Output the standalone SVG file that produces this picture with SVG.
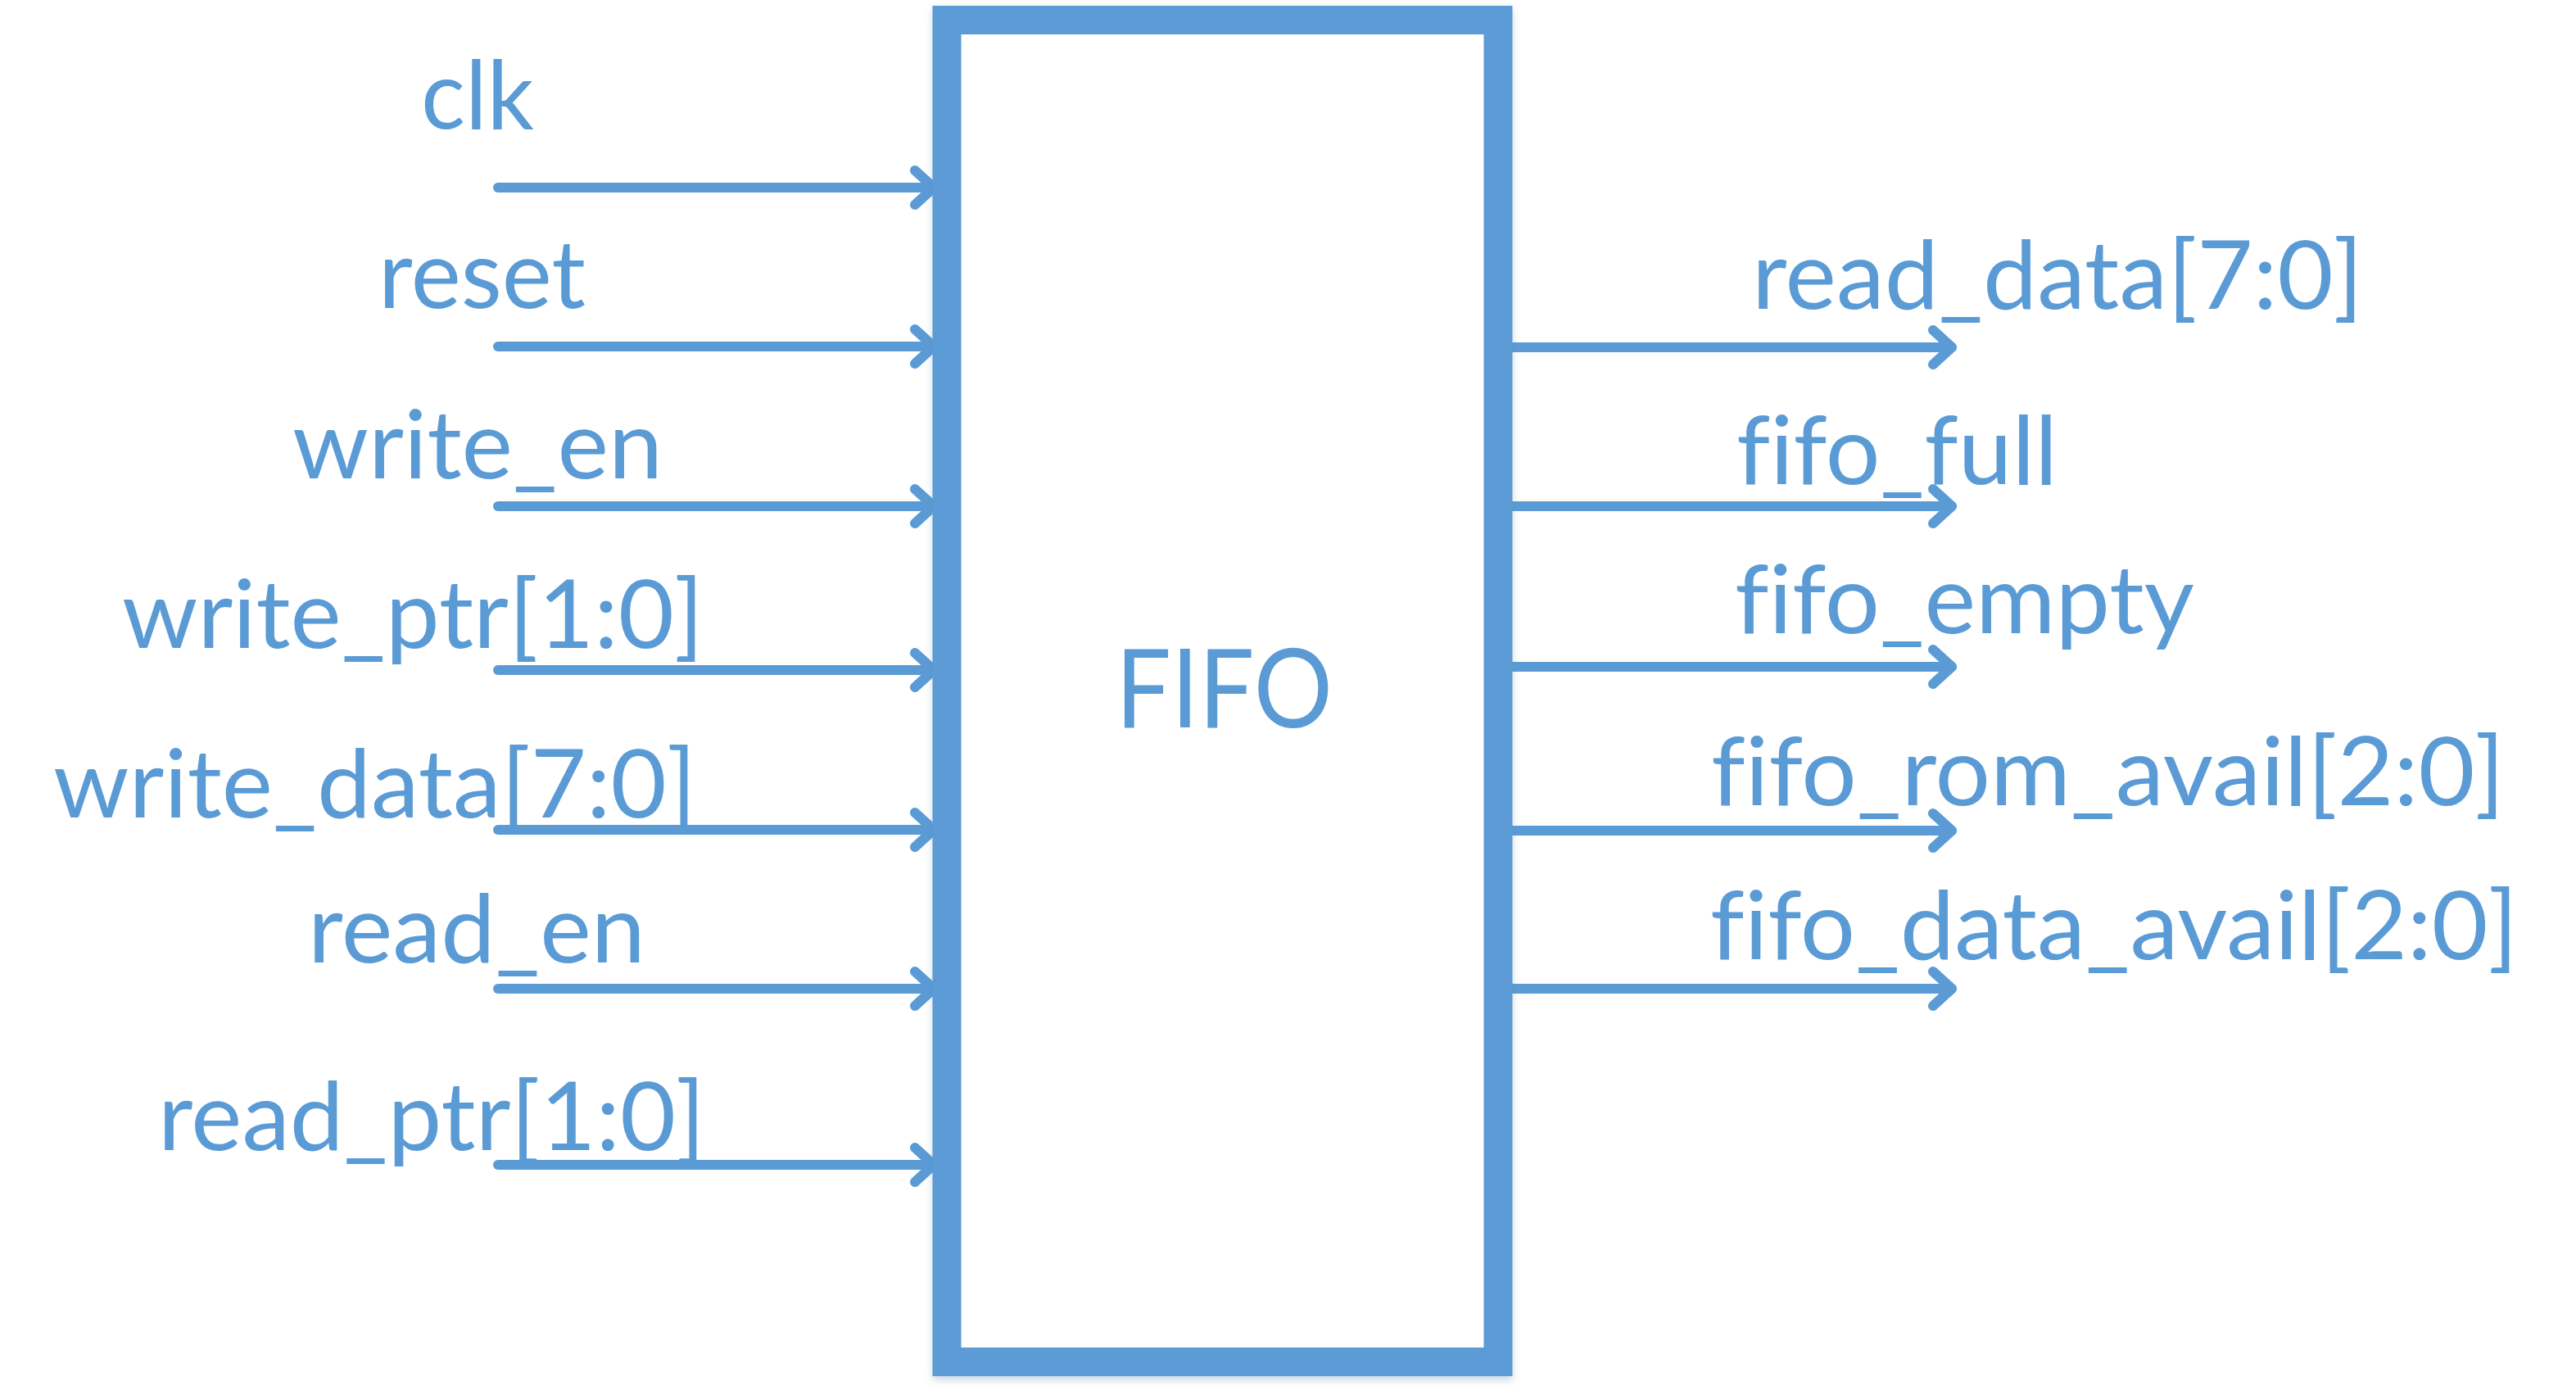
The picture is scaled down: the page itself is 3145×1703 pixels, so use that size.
<svg xmlns="http://www.w3.org/2000/svg" width="3145" height="1703" viewBox="0 0 3145 1703">
<style>
.lbl{font-family:Lato,"Open Sans","Liberation Sans",sans-serif;font-size:116px;fill:#5B9BD5;font-variant-ligatures:none;font-feature-settings:"liga" 0,"clig" 0}
.title{font-family:Lato,"Open Sans","Liberation Sans",sans-serif;font-size:133px;fill:#5B9BD5}
.wire{stroke:#5B9BD5;stroke-width:12;stroke-linecap:round;fill:none;marker-end:url(#chev)}
.box{fill:#FFFFFF;stroke:#5B9BD5;stroke-width:35;filter:url(#shadow)}
</style>
<defs>
<marker id="chev" markerUnits="userSpaceOnUse" viewBox="0 0 60 60" markerWidth="60" markerHeight="60" refX="40" refY="30" orient="auto" overflow="visible">
<path d="M17 9 L40 30 L17 51" fill="none" stroke="#5B9BD5" stroke-width="12" stroke-linecap="round" stroke-linejoin="round"/>
</marker>
<filter id="shadow" x="-10%" y="-10%" width="120%" height="120%">
<feDropShadow dx="0" dy="5" stdDeviation="5" flood-color="#5B7FA8" flood-opacity="0.3"/>
</filter>
</defs>
<rect width="3145" height="1703" fill="#FFFFFF"/>
<g id="connectors">
<line class="wire" x1="608" y1="229" x2="1140" y2="229"/>
<line class="wire" x1="608" y1="423" x2="1140" y2="423"/>
<line class="wire" x1="608" y1="618" x2="1140" y2="618"/>
<line class="wire" x1="608" y1="818" x2="1140" y2="818"/>
<line class="wire" x1="608" y1="1013" x2="1140" y2="1013"/>
<line class="wire" x1="608" y1="1207" x2="1140" y2="1207"/>
<line class="wire" x1="608" y1="1422" x2="1140" y2="1422"/>
<line class="wire" x1="1846" y1="424" x2="2383" y2="424"/>
<line class="wire" x1="1846" y1="618" x2="2383" y2="618"/>
<line class="wire" x1="1846" y1="814" x2="2383" y2="814"/>
<line class="wire" x1="1846" y1="1014" x2="2383" y2="1014"/>
<line class="wire" x1="1846" y1="1207" x2="2383" y2="1207"/>
</g>
<g id="fifo">
<rect class="box" x="1156" y="24.5" width="673" height="1638"/>
<text class="title" x="1362" y="888" textLength="265" lengthAdjust="spacingAndGlyphs">FIFO</text>
</g>
<g id="in_clk"><text class="lbl" x="514" y="157" textLength="138" lengthAdjust="spacingAndGlyphs">clk</text></g>
<g id="in_reset"><text class="lbl" x="462" y="376" textLength="253" lengthAdjust="spacingAndGlyphs">reset</text></g>
<g id="in_write_en"><text class="lbl" x="357" y="584" textLength="452" lengthAdjust="spacingAndGlyphs">write_en</text></g>
<g id="in_write_ptr"><text class="lbl" x="149" y="791" textLength="710" lengthAdjust="spacingAndGlyphs">write_ptr[1:0]</text></g>
<g id="in_write_data"><text class="lbl" x="65" y="998" textLength="785" lengthAdjust="spacingAndGlyphs">write_data[7:0]</text></g>
<g id="in_read_en"><text class="lbl" x="376" y="1175" textLength="412" lengthAdjust="spacingAndGlyphs">read_en</text></g>
<g id="in_read_ptr"><text class="lbl" x="193" y="1404" textLength="668" lengthAdjust="spacingAndGlyphs">read_ptr[1:0]</text></g>
<g id="out_read_data"><text class="lbl" x="2139" y="377" textLength="746" lengthAdjust="spacingAndGlyphs">read_data[7:0]</text></g>
<g id="out_fifo_full"><text class="lbl" x="2120" y="591" textLength="392" lengthAdjust="spacingAndGlyphs">fifo_full</text></g>
<g id="out_fifo_empty"><text class="lbl" x="2118" y="773" textLength="561" lengthAdjust="spacingAndGlyphs">fifo_empty</text></g>
<g id="out_fifo_rom_avail"><text class="lbl" x="2089" y="983" textLength="969" lengthAdjust="spacingAndGlyphs">fifo_rom_avail[2:0]</text></g>
<g id="out_fifo_data_avail"><text class="lbl" x="2088" y="1171" textLength="986" lengthAdjust="spacingAndGlyphs">fifo_data_avail[2:0]</text></g>
</svg>
